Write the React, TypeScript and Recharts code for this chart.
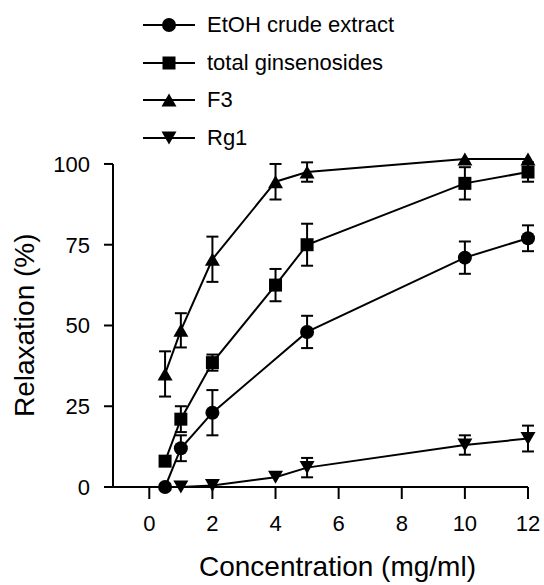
import React from 'react';
import { LineChart, Line, XAxis, YAxis, ErrorBar, Legend, Label, ReferenceLine } from 'recharts';

// concentrations (mg/ml), mean relaxation (%) and error for each extract
const etohConc = [0.5, 1, 2, 5, 10, 12];
const etohMean = [0, 12, 23, 48, 71, 77];
const etohErr = [null, 4, 7, 5, 5, 4];

const totalConc = [0.5, 1, 2, 4, 5, 10, 12];
const totalMean = [8, 21, 38.5, 62.5, 75, 94, 97.5];
const totalErr = [1, 4, 2.5, 5, 6.5, 5, 3];

const f3Conc = [0.5, 1, 2, 4, 5, 10, 12];
const f3Mean = [35, 48.5, 70.5, 94.5, 97.5, 101.5, 101.5];
const f3Err = [7, 5.3, 7, 5.5, 3, null, null];

const rg1Conc = [1, 2, 4, 5, 10, 12];
const rg1Mean = [0, 0.5, 3, 6, 13, 15];
const rg1Err = [null, null, null, 3, 3, 4];

const xTicks = [0, 2, 4, 6, 8, 10, 12];
const yTicks = [0, 25, 50, 75, 100];
const xMin = -1.15;

const FONT = '"Liberation Sans", Arial, sans-serif';

type Shape = 'circle' | 'square' | 'triangle' | 'down';

const build = (xs: number[], ys: number[], es: (number | null)[]) =>
  xs.map((x, i) => ({ x, y: ys[i], err: es[i] }));

const series: { name: string; shape: Shape; data: any[] }[] = [
  { name: 'EtOH crude extract', shape: 'circle', data: build(etohConc, etohMean, etohErr) },
  { name: 'total ginsenosides', shape: 'square', data: build(totalConc, totalMean, totalErr) },
  { name: 'F3', shape: 'triangle', data: build(f3Conc, f3Mean, f3Err) },
  { name: 'Rg1', shape: 'down', data: build(rg1Conc, rg1Mean, rg1Err) },
];

function Marker({ cx, cy, shape }: { cx?: number; cy?: number; shape: Shape }) {
  if (cx == null || cy == null) return null;
  if (shape === 'circle') return <circle cx={cx} cy={cy} r={7} fill="#000" />;
  if (shape === 'square') return <rect x={cx - 6.5} y={cy - 6.5} width={13} height={13} fill="#000" />;
  const w = 15;
  const h = 13;
  if (shape === 'triangle') {
    return (
      <polygon
        points={`${cx},${cy - h / 2} ${cx + w / 2},${cy + h / 2} ${cx - w / 2},${cy + h / 2}`}
        fill="#000"
      />
    );
  }
  return (
    <polygon
      points={`${cx},${cy + h / 2} ${cx + w / 2},${cy - h / 2} ${cx - w / 2},${cy - h / 2}`}
      fill="#000"
    />
  );
}

const renderLegend = () => (
  <div style={{ position: 'relative', width: 544, height: 160, fontFamily: FONT, fontSize: 22, color: '#000' }}>
    {series.map((s, i) => (
      <div
        key={s.name}
        style={{
          position: 'absolute',
          left: 143,
          top: 10 + i * 37.5,
          height: 30,
          display: 'flex',
          alignItems: 'center',
          whiteSpace: 'nowrap',
        }}
      >
        <svg width={52} height={30}>
          <line x1={0} y1={15} x2={52} y2={15} stroke="#000" strokeWidth={2} />
          <Marker cx={26} cy={15} shape={s.shape} />
        </svg>
        <span style={{ marginLeft: 12, lineHeight: '30px' }}>{s.name}</span>
      </div>
    ))}
  </div>
);

export default function App() {
  const tickStyle = { fill: '#000', fontSize: 22, fontFamily: FONT };
  return (
    <div style={{ position: 'absolute', left: 0, top: 0, background: '#fff' }}>
      <LineChart width={544} height={585} margin={{ top: 157.5, right: 16, bottom: 0, left: 0 }}>
        <XAxis
          type="number"
          dataKey="x"
          domain={[xMin, 12]}
          ticks={xTicks}
          height={98}
          tickSize={12}
          tickMargin={16}
          axisLine={{ stroke: '#000', strokeWidth: 2 }}
          tickLine={{ stroke: '#000', strokeWidth: 2 }}
          tick={tickStyle}
        >
          <Label
            value="Concentration (mg/ml)"
            position="center"
            dx={17}
            dy={30}
            style={{ fill: '#000', fontSize: 28, fontFamily: FONT }}
          />
        </XAxis>
        <YAxis
          type="number"
          domain={[0, 102]}
          ticks={yTicks}
          width={113}
          tickSize={9}
          tickMargin={14}
          axisLine={false}
          tickLine={{ stroke: '#000', strokeWidth: 2 }}
          tick={tickStyle}
        >
          <Label
            value="Relaxation (%)"
            position="center"
            angle={-90}
            dx={-32}
            dy={3}
            style={{ fill: '#000', fontSize: 28, fontFamily: FONT, textAnchor: 'middle' }}
          />
        </YAxis>
        <ReferenceLine
          segment={[
            { x: xMin, y: 0 },
            { x: xMin, y: 100 },
          ]}
          stroke="#000"
          strokeWidth={2}
          ifOverflow="visible"
        />
        <Legend
          layout="horizontal"
          verticalAlign="middle"
          align="center"
          content={renderLegend}
          wrapperStyle={{ position: 'absolute', top: 0, left: 0, width: 544 }}
        />
        {series.map((s) => (
          <Line
            key={s.name}
            name={s.name}
            data={s.data}
            dataKey="y"
            type="linear"
            stroke="#000"
            strokeWidth={2}
            isAnimationActive={false}
            dot={(p: any) => <Marker key={`${s.name}-${p.index}`} cx={p.cx} cy={p.cy} shape={s.shape} />}
            activeDot={false}
          >
            <ErrorBar dataKey="err" width={6} stroke="#000" strokeWidth={2} direction="y" />
          </Line>
        ))}
      </LineChart>
    </div>
  );
}
